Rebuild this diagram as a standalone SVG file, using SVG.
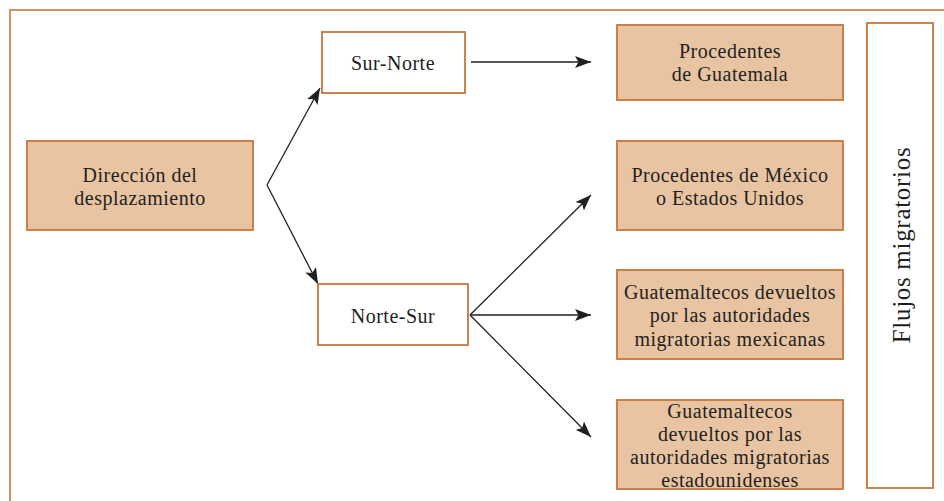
<svg xmlns="http://www.w3.org/2000/svg" width="944" height="501" viewBox="0 0 944 501">
<defs>
<style>
.frame{fill:none;stroke:#D3935E;stroke-width:2}
.fill{fill:#E8C4A2;stroke:#C8763A;stroke-width:1.8}
.white{fill:#FFFFFF;stroke:#C8763A;stroke-width:1.8}
.t{font-family:"Liberation Serif","Times New Roman",serif;font-size:20px;fill:#231F20;text-anchor:middle;letter-spacing:0.5px}
.big{font-size:25px;letter-spacing:0.7px}
.c{fill:none;stroke:#231F20;stroke-width:1.3}
</style>
<marker id="ah" viewBox="0 0 16 12" refX="16" refY="6" markerWidth="16" markerHeight="12" markerUnits="userSpaceOnUse" orient="auto">
<path d="M0,0 L16,6 L0,12 L3.5,6 Z" fill="#231F20"/>
</marker>
</defs>
<rect width="944" height="501" fill="#FFFFFF"/>
<rect class="frame" x="10" y="10" width="1000" height="600"/>
<g id="connectors">
<path class="c" d="M267,185 L320,88" marker-end="url(#ah)"/>
<path class="c" d="M267,185 L318,284" marker-end="url(#ah)"/>
<path class="c" d="M471,62 L591,62" marker-end="url(#ah)"/>
<path class="c" d="M470,315 L591,195" marker-end="url(#ah)"/>
<path class="c" d="M470,315 L591,315" marker-end="url(#ah)"/>
<path class="c" d="M470,315 L591,437" marker-end="url(#ah)"/>
</g>
<g id="direccion">
<rect class="fill" x="27" y="141" width="226" height="89"/>
<text class="t" x="140" y="182">Dirección del</text>
<text class="t" x="140" y="205">desplazamiento</text>
</g>
<g id="sur-norte">
<rect class="white" x="322" y="32" width="143" height="61"/>
<text class="t" x="393" y="70">Sur-Norte</text>
</g>
<g id="norte-sur">
<rect class="white" x="318" y="284" width="150" height="61"/>
<text class="t" x="393" y="323">Norte-Sur</text>
</g>
<g id="guatemala">
<rect class="fill" x="617" y="25" width="226" height="75"/>
<text class="t" x="730" y="58">Procedentes</text>
<text class="t" x="730" y="81">de Guatemala</text>
</g>
<g id="mexico">
<rect class="fill" x="617" y="141" width="226" height="89"/>
<text class="t" x="730" y="182">Procedentes de México</text>
<text class="t" x="730" y="205">o Estados Unidos</text>
</g>
<g id="devueltos-mex">
<rect class="fill" x="617" y="270" width="226" height="89"/>
<text class="t" x="730" y="299">Guatemaltecos devueltos</text>
<text class="t" x="730" y="322">por las autoridades</text>
<text class="t" x="730" y="346">migratorias mexicanas</text>
</g>
<g id="devueltos-eeuu">
<rect class="fill" x="617" y="400" width="226" height="89"/>
<text class="t" x="730" y="418">Guatemaltecos</text>
<text class="t" x="730" y="441">devueltos por las</text>
<text class="t" x="730" y="464">autoridades migratorias</text>
<text class="t" x="730" y="487">estadounidenses</text>
</g>
<g id="flujos">
<rect class="white" x="867" y="23" width="66" height="465"/>
<text class="t big" x="0" y="0" transform="translate(910,245) rotate(-90)">Flujos migratorios</text>
</g>
</svg>
